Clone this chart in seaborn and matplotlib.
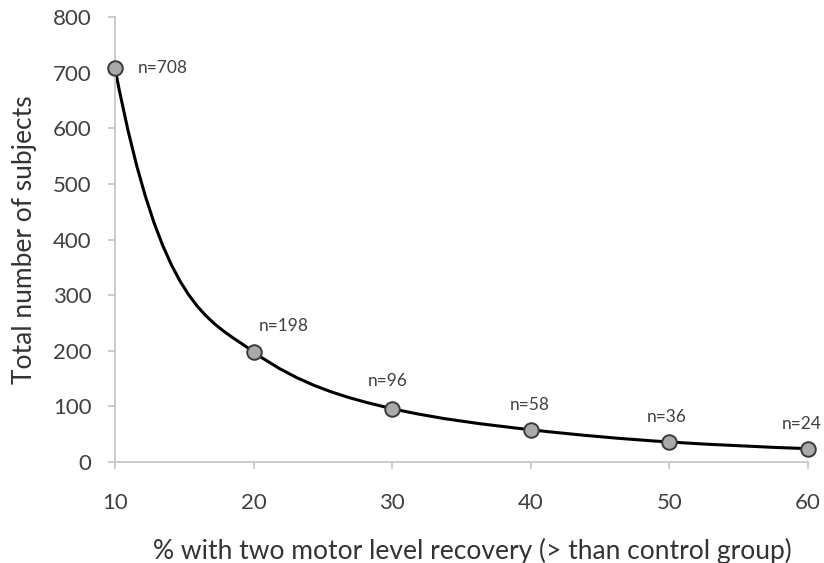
import numpy as np
import pandas as pd
import matplotlib
matplotlib.use("Agg")
import matplotlib.pyplot as plt
import seaborn as sns
from matplotlib.path import Path
from matplotlib.patches import PathPatch

# values
pct_recovery = [10, 20, 30, 40, 50, 60]
n_subjects = [708, 198, 96, 58, 36, 24]
point_labels = ["n=708", "n=198", "n=96", "n=58", "n=36", "n=24"]

df = pd.DataFrame({"pct": pct_recovery, "n": n_subjects})

sns.set_style("white")
plt.rcParams["font.family"] = ["Lato", "DejaVu Sans"]

fig = plt.figure(figsize=(8.24, 5.63), dpi=100)
ax = fig.add_axes([0.1396, 0.1794, 0.841, 0.790])


# smoothed line through the points (power-law-like tangents, as a bezier path)
def smooth_path(xs, ys):
    xs = np.asarray(xs, float)
    ys = np.asarray(ys, float)
    seg_k = np.diff(np.log(ys)) / np.diff(np.log(xs))
    k = np.empty(len(xs))
    k[0], k[-1] = seg_k[0], seg_k[-1]
    k[1:-1] = (seg_k[:-1] + seg_k[1:]) / 2
    m = k * ys / xs
    verts = [(xs[0], ys[0])]
    codes = [Path.MOVETO]
    for i in range(len(xs) - 1):
        h = xs[i + 1] - xs[i]
        verts += [(xs[i] + h / 3, ys[i] + m[i] * h / 3),
                  (xs[i + 1] - h / 3, ys[i + 1] - m[i + 1] * h / 3),
                  (xs[i + 1], ys[i + 1])]
        codes += [Path.CURVE4] * 3
    return Path(verts, codes)


ax.add_patch(PathPatch(smooth_path(df["pct"], df["n"]), facecolor="none",
                       edgecolor="black", lw=2.2, zorder=2, clip_on=False))

sns.scatterplot(data=df, x="pct", y="n", ax=ax, s=110, color="#a9a9a9",
                edgecolor="#3a3a3a", linewidth=1.4, zorder=3, legend=False,
                clip_on=False)

# point labels (offsets in points)
offsets = [(16.5, 0), (21.5, 19), (-3, 20), (-0.7, 17.5), (-2, 18), (-4.3, 18)]
for i, (x, y, lab) in enumerate(zip(pct_recovery, n_subjects, point_labels)):
    ax.annotate(lab, (x, y), xytext=offsets[i], textcoords="offset points",
                ha="left" if i == 0 else "center", va="center",
                fontsize=12.5, color="#404040")

ax.set_xlim(10, 60)
ax.set_ylim(0, 800)
ax.set_xticks([10, 20, 30, 40, 50, 60])
ax.set_yticks(range(0, 801, 100))

for side in ["top", "right"]:
    ax.spines[side].set_visible(False)
for side in ["left", "bottom"]:
    ax.spines[side].set_color("#c8c8c8")
    ax.spines[side].set_linewidth(1.3)
ax.spines["bottom"].set_zorder(1)

ax.tick_params(axis="both", direction="out", length=5, width=1.3,
               color="#c8c8c8", labelsize=16, labelcolor="#404040",
               bottom=True, left=True)
ax.tick_params(axis="x", pad=17)
ax.tick_params(axis="y", pad=12)

ax.set_xlabel("% with two motor level recovery (> than control group)",
              fontsize=19, color="#333333")
ax.set_ylabel("Total number of subjects", fontsize=19, color="#333333")
ax.xaxis.set_label_coords(0.516, -0.17)
ax.yaxis.set_label_coords(-0.113, 0.5)

fig.savefig("out.png", dpi=100)
